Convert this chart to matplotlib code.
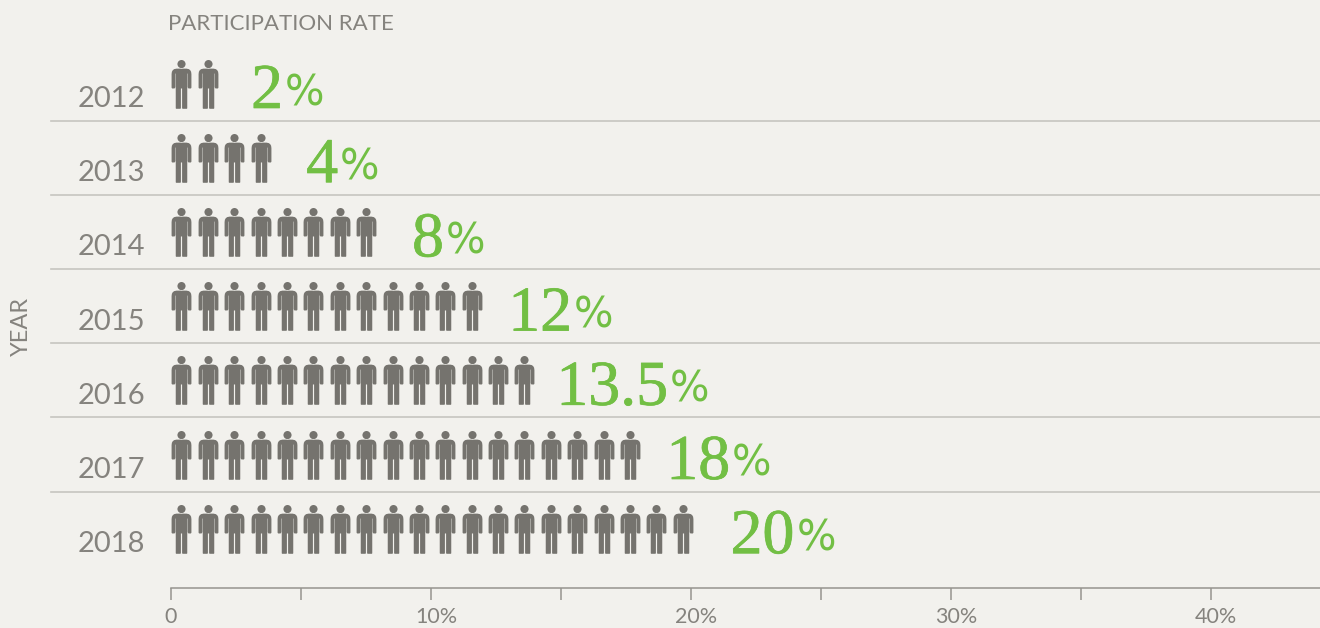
import matplotlib
matplotlib.use("Agg")
import matplotlib.pyplot as plt
import matplotlib.patheffects as pe
from matplotlib.path import Path
from matplotlib.transforms import ScaledTranslation

years = ["2012", "2013", "2014", "2015", "2016", "2017", "2018"]
rate_labels = ["2", "4", "8", "12", "13.5", "18", "20"]
people_count = [2, 4, 8, 12, 14, 18, 20]
# where each big number starts, in % axis units
label_x = [3.08, 5.2, 9.27, 12.97, 14.82, 19.05, 21.52]
xtick_vals = [0, 5, 10, 15, 20, 25, 30, 35, 40]
xtick_labels = ["0", "", "10%", "", "20%", "", "30%", "", "40%"]

BG = "#f2f1ed"
GREY = "#75736e"
TEXT = "#85837e"
GREEN = "#72bf44"
RULE = "#c6c5c0"

W, H = 1320, 628
AXIS_Y = 588
PX_PER_UNIT = 26.0
ROW_PITCH = 74.2
ROW_TOP = 83.5
PERSON_PITCH = 1.015  # people are spaced slightly wider than 1% on the axis


def px(n):
    return n * 0.72


def person_marker():
    head = Path.circle((0, 20.6), 4.1)
    body = [(-5.4, -24.5), (-5.8, -24), (-5.8, -3), (-6.1, -3), (-6.1, 11), (-6.5, 11),
            (-6.5, -3.2), (-7, -4), (-9.5, -4), (-10, -3.2), (-10, 10.5), (-9.7, 12.8),
            (-8.8, 14.4), (-7.4, 15.5), (-5, 16), (5, 16), (7.4, 15.5), (8.8, 14.4), (9.7, 12.8),
            (10, 10.5), (10, -3.2), (9.5, -4), (7, -4), (6.5, -3.2), (6.5, 11), (6.1, 11),
            (6.1, -3), (5.8, -3), (5.8, -24), (5.4, -24.5), (1.2, -24.5), (0.6, -24),
            (0.6, -4), (-0.6, -4), (-0.6, -24), (-1.2, -24.5), (-5.4, -24.5)]
    codes = [Path.MOVETO] + [Path.LINETO] * (len(body) - 2) + [Path.CLOSEPOLY]
    # keep the outline symmetric about the centre so the marker isn't shifted
    top = Path([(0, 24.5), (0, 24.5)], [Path.MOVETO, Path.LINETO])
    return Path.make_compound_path(head, Path(body, codes), top)


plt.rcParams["font.family"] = ["Lato", "DejaVu Sans"]
fig = plt.figure(figsize=(W / 100, H / 100), dpi=100, facecolor=BG)
ax = fig.add_axes([0, (H - AXIS_Y) / H, 1, AXIS_Y / H], facecolor=BG)

for s in ["top", "left", "right"]:
    ax.spines[s].set_visible(False)
ax.spines["bottom"].set_color("#96948f")
ax.spines["bottom"].set_linewidth(1.1)
ax.spines["bottom"].set_bounds(0, (W - 171) / PX_PER_UNIT)
ax.set_yticks([])
ax.set_xticks(xtick_vals)
ax.set_xticklabels(xtick_labels, fontsize=15.5, color=TEXT)
ax.tick_params(axis="x", length=px(12), width=1.1, color="#96948f", pad=px(7))
ax.set_xlim(-171 / PX_PER_UNIT, (W - 171) / PX_PER_UNIT)
ax.set_ylim((AXIS_Y - ROW_TOP) / ROW_PITCH, -ROW_TOP / ROW_PITCH)

# the % labels sit a little right of their ticks
for lab in ax.get_xticklabels()[1:]:
    lab.set_transform(lab.get_transform() + ScaledTranslation(0.05, 0, fig.dpi_scale_trans))

marker = person_marker()
thick = [pe.withStroke(linewidth=0.5, foreground=GREEN)]
for i, n in enumerate(people_count):
    xs = [0.4 + j * PERSON_PITCH for j in range(n)]
    ax.scatter(xs, [i] * n, marker=marker, s=px(49) ** 2, color=GREY, linewidths=0, zorder=3)

    ax.annotate(years[i], (0, i), xytext=(px(-26), px(-23.5)), textcoords="offset points",
                ha="right", va="baseline", fontsize=21, color=TEXT)
    num = ax.annotate(rate_labels[i], (label_x[i], i), xytext=(0, px(-24.5)), textcoords="offset points",
                      ha="left", va="baseline", fontsize=46, color=GREEN, family="Liberation Serif",
                      path_effects=thick)
    ax.annotate("%", xy=(1, 0), xycoords=num, xytext=(px(2), px(8)), textcoords="offset points",
                ha="left", va="bottom", fontsize=30, color=GREEN, family="DejaVu Sans")

for i in range(len(years) - 1):
    ax.plot([-120 / PX_PER_UNIT, (W - 171) / PX_PER_UNIT], [i + 0.5, i + 0.5], color=RULE, lw=1.2, zorder=1)

fig.text(168 / W, 1 - 24 / H, "PARTICIPATION RATE", fontsize=16, color=TEXT, ha="left", va="center")
fig.text(21 / W, 1 - 326 / H, "YEAR", fontsize=17, color=TEXT, rotation=90, ha="center", va="center")

fig.savefig("out.png", dpi=100, facecolor=BG)
